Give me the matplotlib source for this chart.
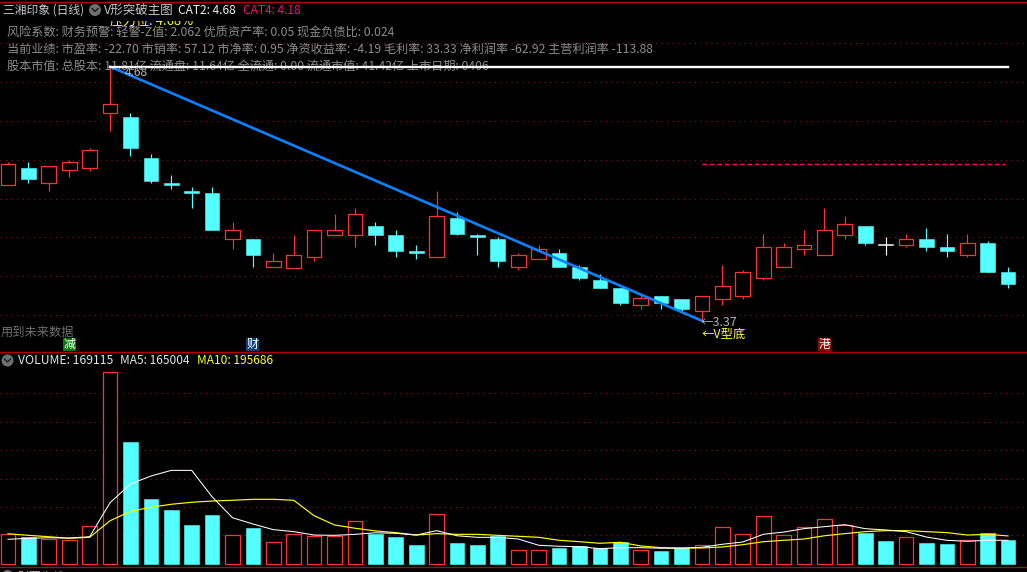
import matplotlib
matplotlib.use('Agg')
import matplotlib.pyplot as plt
from matplotlib.patches import Ellipse, Rectangle

plt.rcParams['font.family'] = ['Noto Sans CJK SC', 'DejaVu Sans']

W, H = 1027, 572

# daily candles
opens = [4.07, 4.16, 4.08, 4.15, 4.16, 4.44, 4.42, 4.21, 4.08, 4.04,
         4.03, 3.79, 3.79, 3.65, 3.64, 3.70, 3.81, 3.81, 3.86, 3.81,
         3.73, 3.70, 3.90, 3.81, 3.79, 3.65, 3.69, 3.72, 3.65, 3.58,
         3.54, 3.45, 3.50, 3.48, 3.42, 3.48, 3.50, 3.59, 3.65, 3.74,
         3.71, 3.81, 3.86, 3.76, 3.76, 3.79, 3.75, 3.71, 3.77, 3.62]
closes = [4.18, 4.10, 4.17, 4.19, 4.25, 4.49, 4.26, 4.09, 4.07, 4.03,
          3.84, 3.84, 3.71, 3.68, 3.71, 3.84, 3.84, 3.92, 3.81, 3.73,
          3.72, 3.91, 3.82, 3.80, 3.68, 3.71, 3.74, 3.65, 3.59, 3.54,
          3.46, 3.49, 3.46, 3.43, 3.50, 3.55, 3.62, 3.75, 3.75, 3.76,
          3.84, 3.87, 3.77, 3.76, 3.79, 3.75, 3.73, 3.77, 3.62, 3.56]
highs = [4.19, 4.19, 4.17, 4.20, 4.26, 4.68, 4.44, 4.23, 4.12, 4.06,
         4.06, 3.88, 3.79, 3.72, 3.81, 3.84, 3.92, 3.95, 3.88, 3.84,
         3.76, 4.04, 3.93, 3.82, 3.80, 3.72, 3.76, 3.74, 3.66, 3.61,
         3.54, 3.51, 3.50, 3.48, 3.50, 3.66, 3.63, 3.82, 3.77, 3.84,
         3.95, 3.91, 3.86, 3.80, 3.82, 3.85, 3.82, 3.82, 3.78, 3.65]
lows = [4.07, 4.08, 4.04, 4.11, 4.14, 4.35, 4.22, 4.08, 4.05, 3.95,
        3.84, 3.74, 3.65, 3.65, 3.64, 3.68, 3.81, 3.75, 3.76, 3.70,
        3.69, 3.70, 3.81, 3.71, 3.65, 3.63, 3.69, 3.65, 3.58, 3.54,
        3.45, 3.43, 3.43, 3.42, 3.37, 3.45, 3.48, 3.58, 3.65, 3.71,
        3.71, 3.79, 3.76, 3.71, 3.75, 3.73, 3.70, 3.70, 3.62, 3.54]

volume = [207000, 186000, 172000, 165000, 264000, 1350000, 858000, 456000, 379000, 273000,
          343000, 200000, 252000, 151000, 207000, 193000, 193000, 299000, 209000, 188000,
          132000, 348000, 146000, 132000, 195000, 94000, 94000, 111000, 125000, 111000,
          153000, 94000, 90000, 109000, 130000, 257000, 207000, 334000, 200000, 257000,
          313000, 271000, 216000, 160000, 186000, 146000, 139000, 165000, 216000, 169115]
ma5 = [172000, 179000, 183000, 181000, 190000, 430000, 562000, 618000, 658000, 658000,
       472000, 324000, 280000, 240000, 226000, 202000, 200000, 207000, 218000, 214000,
       202000, 233000, 197000, 186000, 186000, 174000, 130000, 123000, 120000, 106000,
       113000, 113000, 109000, 109000, 116000, 137000, 153000, 207000, 223000, 247000,
       261000, 275000, 247000, 238000, 226000, 188000, 165000, 158000, 165000, 165004]
ma10 = [211000, 200000, 190000, 179000, 186000, 303000, 369000, 398000, 419000, 433000,
        442000, 447000, 454000, 454000, 447000, 338000, 273000, 250000, 231000, 219000,
        202000, 212000, 207000, 207000, 200000, 193000, 186000, 165000, 155000, 144000,
        151000, 125000, 113000, 111000, 111000, 118000, 134000, 155000, 165000, 174000,
        197000, 212000, 226000, 233000, 233000, 226000, 219000, 202000, 207000, 195686]

price_ticks = [3.4, 3.6, 3.8, 4.0, 4.2, 4.4, 4.6, 4.8]
volume_ticks = [200000, 400000, 600000, 800000, 1000000, 1200000]

high_price = 4.68
low_price = 3.37
cat4 = 4.18
high_idx = 5
low_idx = 34

tags = [(3, '减', '#0a7a0a'), (12, '财', '#0f3f78'), (40, '港', '#8a0a0a')]

header = [
    ('三湘印象 (日线)', 3, '#c8c8c8', 8.5),
    ('V形突破主图', 104, '#c8c8c8', 9.0),
    ('CAT2: 4.68', 178, '#f0f0f0', 8.6),
    ('CAT4: 4.18', 243, '#ff0a78', 8.6),
]
info = [
    ('风险系数: 财务预警: 轻警-Z值: 2.062 优质资产率: 0.05 现金负债比: 0.024', 7, 33),
    ('当前业绩: 市盈率: -22.70 市销率: 57.12 市净率: 0.95 净资收益率: -4.19 毛利率: 33.33 净利润率 -62.92 主营利润率 -113.88', 7, 49),
    ('股本市值: 总股本: 11.81亿 流通盘: 11.64亿 全流通: 0.00 流通市值: 41.42亿 上市日期: 0406', 7, 66),
]

RED = '#ff3232'
CYAN = '#54ffff'
GRID = '#8a1414'
BORDER = '#b00000'
PX = 20.41
FS = 8.6

fig = plt.figure(figsize=(W / 100, H / 100), dpi=100, facecolor='black')


def px_axes(top, bottom):
    ax = fig.add_axes([0, 1 - bottom / H, 1, (bottom - top) / H], facecolor='black')
    ax.set_xlim(-8 / PX, (W - 8) / PX)
    ax.axis('off')
    return ax


def px_text(x, y, s, color, size=FS, **kw):
    return fig.text(x / W, 1 - y / H, s, color=color, fontsize=size, va='center', ha='left', **kw)


# price panel, 0.2 yuan is 38.8 px and 3.4 sits on y=315
ax = px_axes(2, 352)
ax.set_ylim(3.4 + (315 - 352) / 194, 3.4 + (315 - 2) / 194)
for p in price_ticks:
    ax.axhline(p, color=GRID, lw=0.8, ls=(0, (1, 4)), zorder=1)

for i in range(len(opens)):
    o, c, h, l = opens[i], closes[i], highs[i], lows[i]
    if c > o:
        col = RED
    elif c == o:
        col = 'white'
    else:
        col = CYAN
    ax.plot([i, i], [l, h], color=col, lw=0.85, zorder=2, solid_capstyle='butt')
    if c == o:
        ax.plot([i - 0.34, i + 0.34], [o, o], color=col, lw=1.1, zorder=3)
    elif c > o:
        ax.add_patch(Rectangle((i - 0.36, o), 0.72, c - o, fc='black', ec=RED, lw=0.9, zorder=3))
    else:
        ax.add_patch(Rectangle((i - 0.36, c), 0.72, max(o - c, 0.008), fc=CYAN, ec=CYAN, lw=0.4, zorder=3))

ax.plot([high_idx, low_idx], [high_price, low_price], color='#0a82ff', lw=1.9, zorder=5)
ax.plot([high_idx, 49], [high_price, high_price], color='white', lw=1.7, zorder=5)
ax.plot([low_idx, 48.85], [cat4, cat4], color='#ff0a78', lw=1.0, ls=(0, (3.2, 2.2)), zorder=4)

for i, s, col in tags:
    ax.add_patch(Rectangle((i - 0.32, 3.4 + (315 - 351) / 194), 0.64, 13 / 194, fc=col, ec='none', zorder=4))
    ax.text(i, 3.4 + (315 - 344.5) / 194, s, color='white', fontsize=FS, ha='center', va='center', zorder=6)

ax.text(high_idx + 0.7, high_price - 0.03, '4.68', color='#b4b4b4', fontsize=FS, va='center', zorder=6)
ax.text(low_idx - 0.05, low_price - 0.01, '←3.37', color='#b4b4b4', fontsize=9.0, va='center', zorder=6)
ax.text(low_idx, low_price - 0.07, '←V型底', color='#ffff28', fontsize=8.9, va='center', zorder=6)

# volume panel, zero line sits on y=563.7
vax = px_axes(352, 567)
vax.set_ylim((563.7 - 567) * 7050, (563.7 - 352) * 7050)
for v in volume_ticks:
    vax.axhline(v, color=GRID, lw=0.8, ls=(0, (1, 4)), zorder=1)
for i in range(len(volume)):
    if closes[i] >= opens[i] and i != 43:
        vax.add_patch(Rectangle((i - 0.36, 0), 0.72, volume[i], fc='black', ec=RED, lw=0.9, zorder=2))
    else:
        vax.add_patch(Rectangle((i - 0.36, 0), 0.72, volume[i], fc=CYAN, ec=CYAN, lw=0.4, zorder=2))
xs = list(range(len(volume)))
vax.plot(xs, ma5, color='white', lw=0.75, zorder=4)
vax.plot(xs, ma10, color='#ffff00', lw=0.85, zorder=3)

# frame lines
for y in (1.5, 352, 567):
    fig.add_artist(plt.Line2D([0, 1], [1 - y / H, 1 - y / H], color=BORDER, lw=1.0))

# header
for s, x, col, size in header:
    px_text(x, 10, s, col, size=size)

# this label is half hidden behind the first row in the original
hidden = px_text(110, 21.5, '压力位: 4.68%', '#ffff28', size=9.4)
hidden.set_clip_path(Rectangle((0, 0), 1, 1 - 20.5 / H, transform=fig.transFigure))

# info rows go under the white line
for s, x, y in info:
    px_text(x, y, s, '#8c8c8c', size=8.77, zorder=-1)

px_text(1, 332, '用到未来数据', '#6e6e6e', size=8.8)
px_text(18, 577, '财要先线', '#b4b4b4', size=FS)

# collapse buttons
for cx, cy in ((95, 10), (7.5, 360.5), (7.5, 576)):
    fig.add_artist(Ellipse((cx / W, 1 - cy / H), 12 / W, 12 / H, fc='#707070', ec='none',
                           transform=fig.transFigure))
    fig.add_artist(plt.Line2D([(cx - 3) / W, cx / W, (cx + 3) / W],
                              [1 - (cy - 1.5) / H, 1 - (cy + 1.5) / H, 1 - (cy - 1.5) / H],
                              color='#1c1c1c', lw=1.0))

px_text(18, 360.5, 'VOLUME: 169115', '#e6e6e6', size=8.75)
px_text(120, 360.5, 'MA5: 165004', '#e6e6e6', size=8.6)
px_text(197, 360.5, 'MA10: 195686', '#ffff28', size=8.6)

fig.savefig('out.png', dpi=100, facecolor='black')
